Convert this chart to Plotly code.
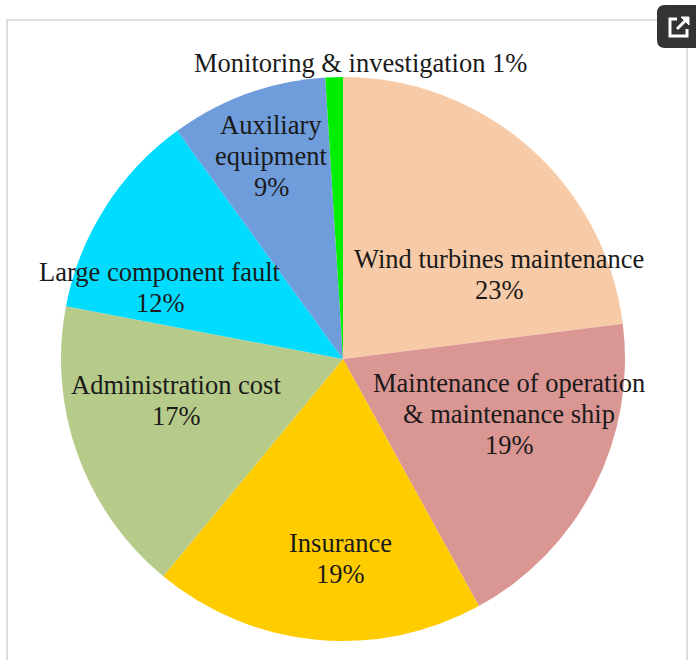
import plotly.graph_objects as go

W, H = 696, 660

categories = [
    "Wind turbines maintenance",
    "Maintenance of operation & maintenance ship",
    "Insurance",
    "Administration cost",
    "Large component fault",
    "Auxiliary equipment",
    "Monitoring & investigation",
]
values = [23, 19, 19, 17, 12, 9, 1]
colors = ["#F8CBA8", "#DA9692", "#FFCC00", "#B6CA8A", "#00DCFF", "#6F9CDA", "#00EE00"]

# label lines as they appear in the chart (text) and their pixel anchor (layout)
label_lines = [
    ["Wind turbines maintenance", "23%"],
    ["Maintenance of operation", "& maintenance ship", "19%"],
    ["Insurance", "19%"],
    ["Administration cost", "17%"],
    ["Large component fault", "12%"],
    ["Auxiliary", "equipment", "9%"],
    ["Monitoring & investigation 1%"],
]
label_pos = [(499, 259), (509, 383), (340, 543), (176, 385), (160, 272), (271, 125), (360, 63)]
line_gap = 31

def px(x):
    return x / W

def py(y):
    return 1 - y / H

cx, cy, r = 343, 359, 282

fig = go.Figure(
    go.Pie(
        labels=categories,
        values=values,
        sort=False,
        direction="clockwise",
        rotation=0,
        marker=dict(colors=colors, line=dict(width=0)),
        textinfo="none",
        hoverinfo="label+percent",
        domain=dict(x=[px(cx - r), px(cx + r)], y=[py(cy + r), py(cy - r)]),
        showlegend=False,
    )
)

annotations = []
for lines, (x0, y0) in zip(label_lines, label_pos):
    for i, line in enumerate(lines):
        annotations.append(
            dict(
                x=px(x0), y=py(y0 + i * line_gap), xref="paper", yref="paper",
                text=line, showarrow=False, xanchor="center", yanchor="middle",
                font=dict(family="Liberation Serif", size=26.5, color="#1a1a1a"),
            )
        )

def P(x, y):
    return f"{px(x):.5f},{py(y):.5f}"

shapes = [
    # frame
    dict(type="path", xref="paper", yref="paper",
         path=f"M {P(7, 700)} L {P(7, 20)} L {P(687, 20)} L {P(687, 700)}",
         line=dict(color="#d4d4d4", width=1.5)),
    # icon background (rounded)
    dict(type="path", xref="paper", yref="paper",
         path=(f"M {P(665, 5)} L {P(700, 5)} L {P(700, 48)} L {P(665, 48)} "
               f"Q {P(657, 48)} {P(657, 40)} L {P(657, 13)} Q {P(657, 5)} {P(665, 5)} Z"),
         fillcolor="#333333", line=dict(width=0)),
    # icon glyph
    dict(type="path", xref="paper", yref="paper",
         path=f"M {P(677, 19)} L {P(670, 19)} L {P(670, 36)} L {P(687, 36)} L {P(687, 29)}",
         line=dict(color="white", width=3)),
    dict(type="path", xref="paper", yref="paper",
         path=f"M {P(677, 29)} L {P(688, 18)}",
         line=dict(color="white", width=3)),
    dict(type="path", xref="paper", yref="paper",
         path=f"M {P(681, 17)} L {P(689, 17)} L {P(689, 25)} Z",
         fillcolor="white", line=dict(color="white", width=1)),
]

fig.update_layout(
    width=W, height=H,
    margin=dict(l=0, r=0, t=0, b=0),
    paper_bgcolor="white",
    plot_bgcolor="white",
    annotations=annotations,
    shapes=shapes,
)

fig.write_html(
    "out.html",
    config={"displayModeBar": False},
    post_script="document.body.style.margin='0';document.body.style.overflow='hidden';",
)
